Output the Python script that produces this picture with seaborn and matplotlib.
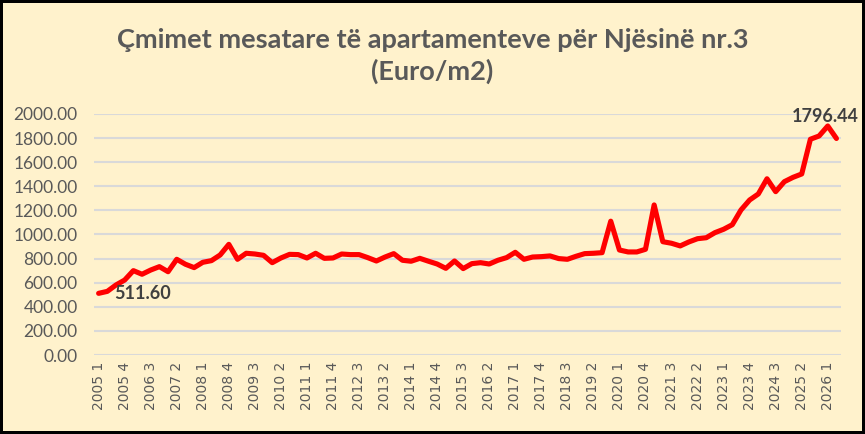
import matplotlib
matplotlib.use("Agg")
import matplotlib.pyplot as plt
import seaborn as sns
import pandas as pd

# quarterly periods 2005 Q1 .. 2026 Q2
years = [y for y in range(2005, 2027) for _ in range(4)][:86]
quarters = [q for _ in range(2005, 2027) for q in (1, 2, 3, 4)][:86]
periods = [f"{y} {q}" for y, q in zip(years, quarters)]

prices = [
    511.60, 528, 581, 622, 700, 670, 705, 733, 691, 794,
    753, 725, 769, 783, 830, 918, 794, 844, 838, 827,
    766, 805, 835, 833, 805, 844, 802, 805, 838, 833,
    833, 808, 780, 813, 841, 786, 778, 802, 778, 755,
    719, 780, 717, 758, 766, 755, 786, 808, 852, 794,
    813, 816, 822, 800, 794, 819, 841, 844, 849, 1110,
    871, 855, 855, 877, 1245, 940, 927, 905, 938, 965,
    973, 1015, 1043, 1081, 1203, 1286, 1336, 1462, 1355, 1438,
    1474, 1502, 1790, 1817, 1900, 1796.44,
]

title = "Çmimet mesatare të apartamenteve për Njësinë nr.3\n(Euro/m2)"
bg = "#FFF2CC"
grey = "#595959"

df = pd.DataFrame({"idx": range(len(prices)), "price": prices, "period": periods})

sns.set_theme(style="white")
plt.rcParams["font.family"] = ["Lato", "DejaVu Sans"]

fig = plt.figure(figsize=(8.65, 4.34), dpi=100, facecolor=bg)
fig.patch.set_edgecolor("black")
fig.patch.set_linewidth(3)
ax = fig.add_axes([0.109, 0.182, 0.863, 0.5555])
ax.set_facecolor(bg)

ax.set_ylim(0, 2000)
ax.set_xlim(-0.5, len(prices) - 0.5)
ax.set_yticks(range(0, 2001, 200))
ax.set_yticklabels([f"{v:.2f}" for v in range(0, 2001, 200)])
ax.yaxis.grid(True, color="#D9D9D9", lw=1.5)
ax.set_axisbelow(True)

sns.lineplot(data=df, x="idx", y="price", color="#FF0000", lw=3.7, ax=ax,
             solid_capstyle="round", solid_joinstyle="round")

ticks = df["idx"][::3]
ax.set_xticks(ticks)
ax.set_xticklabels(df["period"][::3], rotation=90, family="DejaVu Sans")
ax.tick_params(axis="x", length=0, pad=5, labelsize=10, colors=grey)
ax.tick_params(axis="y", length=0, pad=12, labelsize=12.5, colors=grey)
ax.set_xlabel("")
ax.set_ylabel("")
sns.despine(ax=ax, left=True, bottom=True)

ax.annotate(f"{prices[0]:.2f}", (0, prices[0]), xytext=(11, 0), textcoords="offset points",
            ha="left", va="center", fontsize=13, fontweight="bold", color="#404040")
ax.annotate(f"{prices[-1]:.2f}", (len(prices) - 1, prices[-1]), xytext=(16, 10),
            textcoords="offset points", ha="right", va="bottom", fontsize=13,
            fontweight="bold", color="#404040", annotation_clip=False)

fig.text(0.5, 0.872, title, ha="center", va="center", fontsize=19.5, fontweight="bold",
         color=grey, linespacing=1.32)

fig.savefig("out.png", dpi=100, facecolor=bg, edgecolor="black")
